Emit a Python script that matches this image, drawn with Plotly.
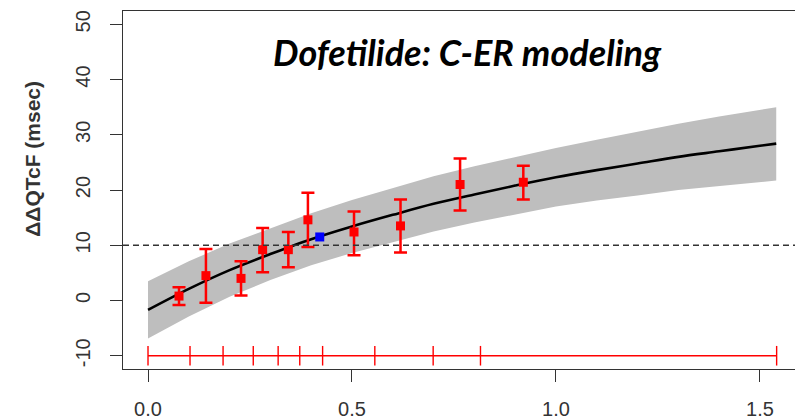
import plotly.graph_objects as go

# ---- data ----
# model curve (concentration vs predicted ddQTcF) and its confidence band
curve_x = [0.0, 0.1, 0.2, 0.3, 0.4, 0.5, 0.6, 0.7, 0.8, 0.9, 1.0, 1.1, 1.2, 1.3, 1.4, 1.5, 1.54]
curve_y = [-1.7, 2.1, 5.5, 8.4, 11.1, 13.4, 15.5, 17.5, 19.2, 20.8, 22.3, 23.6, 24.8, 26.0, 27.0, 28.0, 28.4]
band_hi = [3.5, 7.1, 10.3, 13.1, 15.8, 18.2, 20.4, 22.5, 24.3, 26.0, 27.6, 29.1, 30.6, 32.0, 33.3, 34.6, 35.0]
band_lo = [-6.9, -2.9, 0.7, 3.7, 6.4, 8.6, 10.6, 12.5, 14.1, 15.6, 17.0, 18.1, 19.0, 20.0, 20.7, 21.4, 21.7]

# observed decile means with 90% CI
obs_x = [0.076, 0.142, 0.228, 0.281, 0.344, 0.392, 0.505, 0.619, 0.765, 0.920]
obs_y = [0.8, 4.5, 4.0, 9.2, 9.2, 14.6, 12.4, 13.5, 21.0, 21.4]
obs_hi = [2.4, 9.3, 7.1, 13.1, 12.4, 19.5, 16.1, 18.3, 25.7, 24.4]
obs_lo = [-0.8, -0.4, 0.9, 5.1, 6.0, 9.7, 8.2, 8.7, 16.3, 18.3]

# blue point (mean Cmax prediction)
blue_x = [0.421]
blue_y = [11.5]

# decile boundaries of concentrations (rug at y = -10)
rug_x = [0.0, 0.103, 0.184, 0.258, 0.319, 0.372, 0.428, 0.556, 0.699, 0.815, 1.541]
rug_y_level = -10

threshold = 10
x_ticks = [0.0, 0.5, 1.0, 1.5]
x_tick_labels = ["0.0", "0.5", "1.0", "1.5"]
y_ticks = [-10, 0, 10, 20, 30, 40, 50]
y_tick_labels = ["-10", "0", "10", "20", "30", "40", "50"]

title_text = "Dofetilide: C-ER modeling"
y_title = "ΔΔQTcF (msec)"

RED = "#ff0000"
INK = "#333333"
AXFONT = "Liberation Sans, Arial, sans-serif"

fig = go.Figure()

# confidence band
fig.add_trace(go.Scatter(
    x=curve_x + curve_x[::-1],
    y=band_hi + band_lo[::-1],
    fill="toself", fillcolor="#bebebe", line=dict(width=0),
    mode="lines", hoverinfo="skip", showlegend=False))

# model curve
fig.add_trace(go.Scatter(
    x=curve_x, y=curve_y, mode="lines", line=dict(color="black", width=2.6, shape="spline"),
    showlegend=False))

# observed points with error bars
fig.add_trace(go.Scatter(
    x=obs_x, y=obs_y, mode="markers",
    marker=dict(symbol="square", size=9, color=RED),
    error_y=dict(type="data", symmetric=False,
                 array=[h - y for h, y in zip(obs_hi, obs_y)],
                 arrayminus=[y - l for l, y in zip(obs_lo, obs_y)],
                 color=RED, thickness=2.5, width=6.5),
    showlegend=False))

# blue point
fig.add_trace(go.Scatter(
    x=blue_x, y=blue_y, mode="markers",
    marker=dict(symbol="square", size=9, color="#0000ff"),
    showlegend=False))

# rug line
fig.add_trace(go.Scatter(
    x=[rug_x[0], rug_x[-1]], y=[rug_y_level, rug_y_level], mode="lines",
    line=dict(color=RED, width=1.4), showlegend=False))
fig.add_trace(go.Scatter(
    x=rug_x, y=[rug_y_level] * len(rug_x), mode="markers",
    marker=dict(symbol="line-ns", size=14, line=dict(color=RED, width=1.4)),
    showlegend=False))

# threshold dashed line
fig.add_shape(type="line", xref="paper", x0=0, x1=1, yref="y", y0=threshold, y1=threshold,
              line=dict(color=INK, width=1.3, dash="6px,4px"), layer="above")

fig.add_annotation(text=title_text, xref="paper", yref="paper", x=0.512, y=0.885,
                   showarrow=False, xanchor="center", yanchor="middle",
                   font=dict(family="Lato", size=36, color="black", weight="bold", style="italic"))

# y-axis title placed like the reference (not centred on the plot area)
fig.add_annotation(text="<b>" + y_title + "</b>", xref="paper", yref="paper",
                   x=-0.134, y=0.587, textangle=-90, showarrow=False,
                   xanchor="center", yanchor="middle",
                   font=dict(family=AXFONT, size=21, color=INK))

fig.update_layout(
    width=795, height=419,
    margin=dict(l=123, r=0, t=11, b=50),
    paper_bgcolor="white", plot_bgcolor="white",
    font=dict(family=AXFONT, color=INK),
)

fig.update_xaxes(
    range=[-0.0613, 1.586], tickvals=x_ticks, ticktext=x_tick_labels,
    showline=True, linecolor=INK, linewidth=1.2, mirror=True,
    ticks="outside", ticklen=12, tickcolor=INK, tickwidth=1,
    tickfont=dict(family=AXFONT, size=20, color=INK), ticklabelstandoff=10,
    showgrid=False, zeroline=False)

fig.update_yaxes(
    range=[-12.4, 52.4], tickvals=y_ticks, ticktext=y_tick_labels, tickangle=-90,
    showline=True, linecolor=INK, linewidth=1.2, mirror=False,
    ticks="outside", ticklen=12, tickcolor=INK, tickwidth=1,
    tickfont=dict(family=AXFONT, size=20, color=INK), ticklabelstandoff=12,
    showgrid=False, zeroline=False)

fig.write_html("out.html")
